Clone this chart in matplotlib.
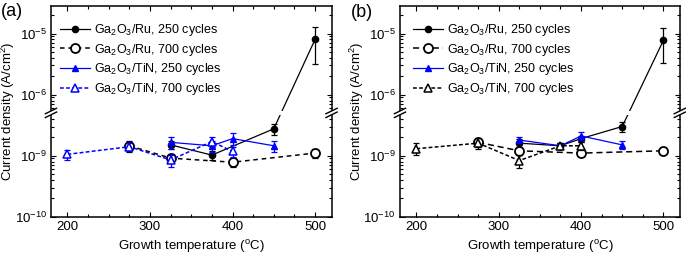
import numpy as np
import matplotlib
matplotlib.use('Agg')
import matplotlib.pyplot as plt
from matplotlib.ticker import FixedLocator, FuncFormatter, MultipleLocator
from matplotlib.patches import Rectangle
from matplotlib.lines import Line2D

plt.rcParams['font.family'] = ['Liberation Sans', 'DejaVu Sans']
plt.rcParams['mathtext.fontset'] = 'custom'
plt.rcParams['mathtext.rm'] = 'Liberation Sans'
plt.rcParams['mathtext.default'] = 'regular'

# panel (a) data: temperature (C), current density (A/cm2), relative error
t_ru250_a = [325, 375, 450, 500]
j_ru250_a = [1.5e-9, 1.02e-9, 2.75e-9, 8.0e-6]
e_ru250_a = [0.15, 0.18, 0.2, 0.6]

t_ru700_a = [275, 325, 400, 500]
j_ru700_a = [1.45e-9, 0.91e-9, 0.78e-9, 1.1e-9]
e_ru700_a = [0.2, 0.15, 0.18, 0.18]

t_tin250_a = [325, 375, 400, 450]
j_tin250_a = [1.65e-9, 1.45e-9, 1.9e-9, 1.45e-9]
e_tin250_a = [0.22, 0.2, 0.22, 0.2]

t_tin700_a = [200, 275, 325, 375, 400]
j_tin700_a = [1.05e-9, 1.4e-9, 0.85e-9, 1.7e-9, 1.17e-9]
e_tin700_a = [0.2, 0.15, 0.22, 0.2, 0.18]

# panel (b) data
t_ru250_b = [325, 375, 400, 450, 500]
j_ru250_b = [1.6e-9, 1.45e-9, 1.9e-9, 3.0e-9, 7.7e-6]
e_ru250_b = [0.15, 0.1, 0.12, 0.18, 0.58]

t_ru700_b = [275, 325, 400, 500]
j_ru700_b = [1.65e-9, 1.2e-9, 1.1e-9, 1.2e-9]
e_ru700_b = [0.15, 0.1, 0.1, 0.08]

t_tin250_b = [325, 375, 400, 450]
j_tin250_b = [1.8e-9, 1.45e-9, 2.1e-9, 1.5e-9]
e_tin250_b = [0.12, 0.1, 0.15, 0.15]

t_tin700_b = [200, 275, 325, 375, 400]
j_tin700_b = [1.3e-9, 1.6e-9, 0.83e-9, 1.45e-9, 1.45e-9]
e_tin700_b = [0.22, 0.2, 0.25, 0.1, 0.15]

labels = [r'Ga$_2$O$_3$/Ru, 250 cycles', r'Ga$_2$O$_3$/Ru, 700 cycles',
          r'Ga$_2$O$_3$/TiN, 250 cycles', r'Ga$_2$O$_3$/TiN, 700 cycles']

# broken log axis: keep 1e-10..10^-8.3 and 10^-6.3..10^-4.55
L1, U1 = -8.3, -6.3
GAP = U1 - L1
YMIN, YMAX = 1e-10, 10 ** -4.55


def fwd(y):
    L = np.log10(np.clip(np.asarray(y, dtype=float), 1e-300, None))
    return np.where(L > U1, L - GAP, np.minimum(L, L1))


def inv(t):
    t = np.asarray(t, dtype=float)
    return np.where(t > L1, 10.0 ** (t + GAP), 10.0 ** t)


major_y = [1e-10, 1e-9, 1e-6, 1e-5]
minor_y = ([k * 1e-10 for k in range(2, 10)] + [k * 1e-9 for k in range(2, 5)] +
           [k * 1e-7 for k in range(6, 10)] + [k * 1e-6 for k in range(2, 10)] + [2e-5])


def draw_panel(ax, series, tin700_color, tin700_ls, ru700_ls):
    styles = [
        dict(color='black', ls='-', marker='o', ms=4.5, mfc='black', lw=0.9),
        dict(color='black', ls=ru700_ls, marker='o', ms=6.5, mfc='white', mew=1.3, lw=1.1),
        dict(color='blue', ls='-', marker='^', ms=4.5, mfc='blue', lw=0.9),
        dict(color=tin700_color, ls=tin700_ls, marker='^', ms=5.5, mfc='white', mew=1.1, lw=1.1),
    ]
    handles = []
    for (t, j, e), st, lab in zip(series, styles, labels):
        j = np.array(j)
        yerr = j * np.array(e)
        ax.errorbar(t, j, yerr=yerr, fmt='none', ecolor=st['color'], elinewidth=0.9,
                    capsize=2, capthick=0.9)
        h, = ax.plot(t, j, label=lab, **st)
        handles.append(h)

    ax.set_yscale('function', functions=(fwd, inv))
    ax.set_ylim(YMIN, YMAX)
    ax.set_xlim(180, 520)
    ax.yaxis.set_major_locator(FixedLocator(major_y))
    ax.yaxis.set_minor_locator(FixedLocator(minor_y))
    ax.yaxis.set_major_formatter(FuncFormatter(lambda v, p: r'$10^{%d}$' % round(np.log10(v))))
    ax.yaxis.set_minor_formatter(FuncFormatter(lambda v, p: ''))
    ax.xaxis.set_major_locator(MultipleLocator(100))
    ax.xaxis.set_minor_locator(MultipleLocator(25))
    ax.tick_params(which='both', direction='in', top=True, right=True, width=0.8,
                   labelsize=9.5, pad=3)
    ax.tick_params(which='major', length=3.5)
    ax.tick_params(which='minor', length=2)
    for s in ax.spines.values():
        s.set_linewidth(1.1)

    ax.set_xlabel(r'Growth temperature ($^{o}$C)', fontsize=9.5)
    ax.set_ylabel(r'Current density (A/cm$^2$)', fontsize=9.5)

    # axis break
    fb = (L1 - np.log10(YMIN)) / (fwd(YMAX) - np.log10(YMIN))
    h = 0.018
    ax.add_patch(Rectangle((-0.03, fb - h / 2), 1.06, h, transform=ax.transAxes,
                           facecolor='white', edgecolor='none', clip_on=False, zorder=5))
    for xs in (0.0, 1.0):
        for dy in (-h / 2, h / 2):
            ax.add_line(Line2D([xs - 0.02, xs + 0.02], [fb + dy - 0.013, fb + dy + 0.013],
                               transform=ax.transAxes, color='black', lw=1.0,
                               clip_on=False, zorder=6))
    return handles


fig = plt.figure(figsize=(6.86, 2.54), dpi=100)
ax_a = fig.add_axes([0.0743, 0.147, 0.409, 0.829])
ax_b = fig.add_axes([0.583, 0.147, 0.408, 0.829])

ha = draw_panel(ax_a, [(t_ru250_a, j_ru250_a, e_ru250_a), (t_ru700_a, j_ru700_a, e_ru700_a),
                       (t_tin250_a, j_tin250_a, e_tin250_a), (t_tin700_a, j_tin700_a, e_tin700_a)],
                'blue', (0, (2.5, 1.5)), (0, (3, 2.5)))
hb = draw_panel(ax_b, [(t_ru250_b, j_ru250_b, e_ru250_b), (t_ru700_b, j_ru700_b, e_ru700_b),
                       (t_tin250_b, j_tin250_b, e_tin250_b), (t_tin700_b, j_tin700_b, e_tin700_b)],
                'black', (0, (2.5, 1.5)), (0, (4, 2.5)))

for ax, hs, x0 in ((ax_a, ha, 0.032), (ax_b, hb, 0.046)):
    ax.legend(handles=hs, loc='upper left', bbox_to_anchor=(x0, 0.925), frameon=False,
              fontsize=9, handlelength=2.4, handletextpad=0.35, labelspacing=0.3,
              borderaxespad=0, borderpad=0)
    ax.yaxis.set_label_coords(-34 / 280.0, 0.5)
    ax.xaxis.set_label_coords(0.5, -0.1)

fig.text(0.002, 0.955, '(a)', fontsize=13, va='center')
fig.text(0.512, 0.952, '(b)', fontsize=13, va='center')

fig.savefig('out.png', dpi=100)
